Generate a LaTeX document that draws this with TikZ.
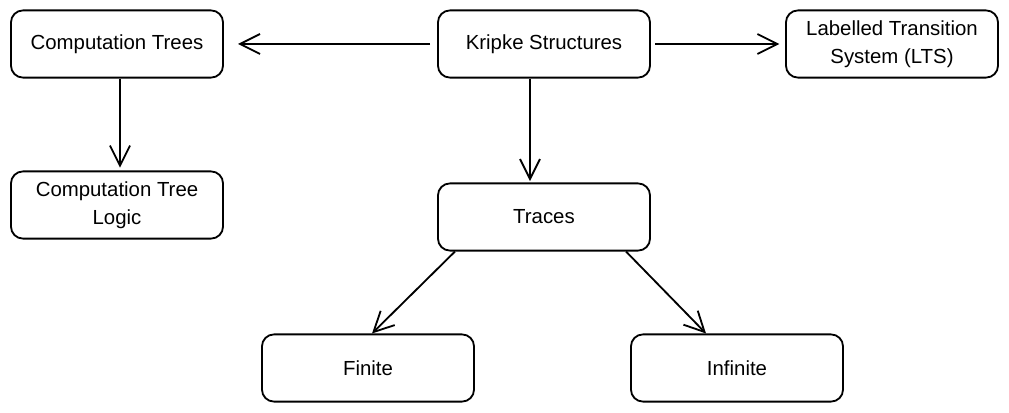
\documentclass[tikz,border=0pt]{standalone}
\usepackage{fontspec}
\setmainfont{Liberation Sans}
\usetikzlibrary{arrows.meta}
\begin{document}
\begin{tikzpicture}[x=0.025cm,y=-0.025cm,
        box/.style={draw,line width=1.3pt,rounded corners=0.3cm,minimum width=5.3cm,minimum height=1.68cm,align=center,font=\fontsize{14.5}{20}\selectfont},
        arr/.style={line width=1.3pt,-{Straight Barb[length=0.5cm,width=0.5cm,line width=1.3pt]}}]
            \useasboundingbox (0,0) rectangle (1009,413);
            \node[box] (ctree) at (117,44) {Computation Trees};
            \node[box] (kripke) at (544,44) {Kripke Structures};
            \node[box] (lts) at (892,44) {Labelled Transition\\System (LTS)};
            \node[box] (ctl) at (117,205) {Computation Tree\\Logic};
            \node[box] (traces) at (544,217) {Traces};
            \node[box] (finite) at (368,368) {Finite};
            \node[box] (infinite) at (737,368) {Infinite};
            \draw [arr,shorten <=5pt,shorten >=10pt] (kripke.west) -- (ctree.east);
            \draw [arr,shorten <=3pt,shorten >=4pt] (kripke.east) -- (lts.west);
            \draw [arr,shorten >=2pt] ([xshift=0.075cm]ctree.south) -- ([xshift=0.075cm]ctl.north);
            \draw [arr,shorten >=1pt] ([xshift=-0.35cm]kripke.south) -- ([xshift=-0.35cm]traces.north);
            \draw [arr] ([xshift=-2.225cm]traces.south) -- ([xshift=0.1cm]finite.north);
            \draw [arr] ([xshift=2.05cm]traces.south) -- ([xshift=-0.775cm]infinite.north);
        \end{tikzpicture}
\end{document}
